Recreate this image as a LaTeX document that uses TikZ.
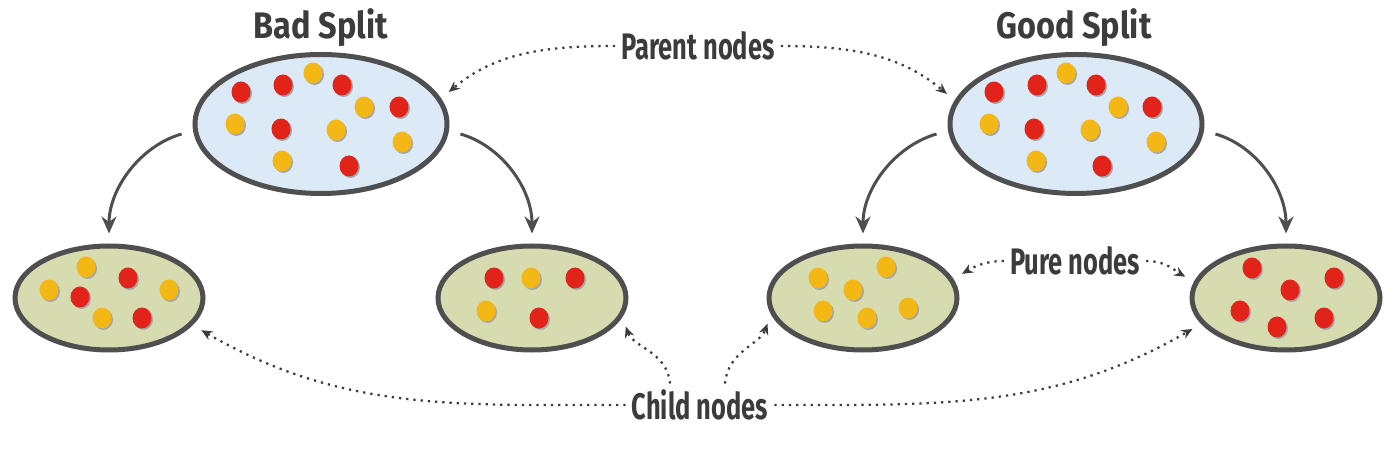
\documentclass[tikz,border=0pt]{standalone}
\usepackage{fontspec}
\usetikzlibrary{calc,arrows.meta,shapes.geometric}
\newfontfamily\handfont{Fira Sans}[FakeStretch=0.69]
\newfontfamily\headfont{Fira Sans}[FakeStretch=0.88]
\definecolor{parentfill}{HTML}{DCE9F6}
\definecolor{childfill}{HTML}{D7DBB0}
\definecolor{rim}{HTML}{4F4F4F}
\definecolor{ink}{HTML}{3C3C3C}
\definecolor{redball}{HTML}{E2231A}
\definecolor{yelball}{HTML}{F3B815}
\def\ball(#1)#2{\fill[black!35] ($(#1)+(1.5,1.5)$) ellipse (1.9mm and 2.1mm); \fill[#2] (#1) ellipse (1.9mm and 2.1mm);}
\tikzset{
	pnode/.style={ellipse, draw=rim, line width=1mm, fill=parentfill, minimum width=50.4mm, minimum height=27.8mm, inner sep=0},
	cnode/.style={ellipse, draw=rim, line width=1mm, fill=childfill, minimum width=37.6mm, minimum height=20.8mm, inner sep=0},
	heading/.style={text=ink, font=\headfont\bfseries\fontsize{21}{24}\selectfont},
	label/.style={text=ink, font=\handfont\bfseries\fontsize{21}{24}\selectfont},
	splitarrow/.style={draw=rim, line width=0.6mm, -{Stealth[length=3.4mm,width=3mm]}, shorten <=2.4mm, shorten >=2mm},
	notearrow/.style={draw=ink, line width=0.45mm, dash pattern=on 0.45mm off 1mm, -{Stealth[length=2.2mm,width=1.9mm]}, shorten >=2mm}
}

\begin{document}
\begin{tikzpicture}[x=0.2mm, y=-0.2mm]
			%%%%% START %%%%%
			
			\useasboundingbox (0, 0) rectangle (1400, 467);
			
			\node[heading] (tbad) at (321, 28) {Bad Split};
			\node[heading] (tgood) at (1074, 28) {Good Split};
			
			\node[pnode] (bp) at (321, 124) {};
			\node[pnode] (gp) at (1076, 124) {};
			\node[cnode] (bl) at (109, 298) {};
			\node[cnode] (br) at (532, 298) {};
			\node[cnode] (gl) at (863, 298) {};
			\node[cnode] (gr) at (1286, 298) {};
			
			\draw[splitarrow] (bp.183) to[out=196, in=90] (bl.north);
			\draw[splitarrow] (bp.-3) to[out=-16, in=90] (br.north);
			\draw[splitarrow] (gp.183) to[out=196, in=90] (gl.north);
			\draw[splitarrow] (gp.-3) to[out=-16, in=90] (gr.north);
			
			% bad split, parent
			\ball(241, 92){redball}
			\ball(283, 85){redball}
			\ball(313, 73){yelball}
			\ball(342, 85){redball}
			\ball(364, 107){yelball}
			\ball(399, 107){redball}
			\ball(235, 124){yelball}
			\ball(281, 129){redball}
			\ball(336, 130){yelball}
			\ball(402, 142){yelball}
			\ball(282, 161){yelball}
			\ball(349, 166){redball}
			
			% good split, parent
			\ball(994, 92){redball}
			\ball(1037, 85){redball}
			\ball(1066, 73){yelball}
			\ball(1096, 85){redball}
			\ball(1118, 107){yelball}
			\ball(1152, 107){redball}
			\ball(989, 124){yelball}
			\ball(1034, 129){redball}
			\ball(1090, 130){yelball}
			\ball(1156, 142){yelball}
			\ball(1036, 161){yelball}
			\ball(1102, 166){redball}
			
			% children
			\ball(86, 267){yelball}
			\ball(49, 290){yelball}
			\ball(80, 297){redball}
			\ball(128, 278){redball}
			\ball(169, 290){yelball}
			\ball(102, 318){yelball}
			\ball(142, 318){redball}
			
			\ball(494, 278){redball}
			\ball(531, 278){yelball}
			\ball(575, 278){redball}
			\ball(486, 311){yelball}
			\ball(539, 318){redball}
			
			\ball(818, 278){yelball}
			\ball(886, 267){yelball}
			\ball(853, 290){yelball}
			\ball(823, 311){yelball}
			\ball(867, 318){yelball}
			\ball(908, 308){yelball}
			
			\ball(1252, 268){redball}
			\ball(1290, 290){redball}
			\ball(1334, 278){redball}
			\ball(1240, 311){redball}
			\ball(1277, 327){redball}
			\ball(1324, 318){redball}
			
			\node[label] (lpar) at (698, 46) {Parent nodes};
			\node[label] (lpure) at (1075, 261) {Pure nodes};
			\node[label] (lchild) at (700, 405) {Child nodes};
			
			\draw[notearrow] (lpar.west) to[out=180, in=40] (bp.12);
			\draw[notearrow] (lpar.east) to[out=0, in=140] (gp.169);
			\draw[notearrow] (lpure.west) to[out=180, in=30] (gl.12);
			\draw[notearrow] (lpure.east) to[out=0, in=150] (gr.170);
			\draw[notearrow] (lchild.west) to[out=180, in=-30] (bl.-18);
			\draw[notearrow] ([xshift=-6mm]lchild.north) to[out=95, in=-70] (br.-12);
			\draw[notearrow] ([xshift=5mm]lchild.north) to[out=85, in=-110] (gl.190);
			\draw[notearrow] (lchild.east) to[out=0, in=210] (gr.197);
			
			%%%%% END %%%%%
\end{tikzpicture}
\end{document}
